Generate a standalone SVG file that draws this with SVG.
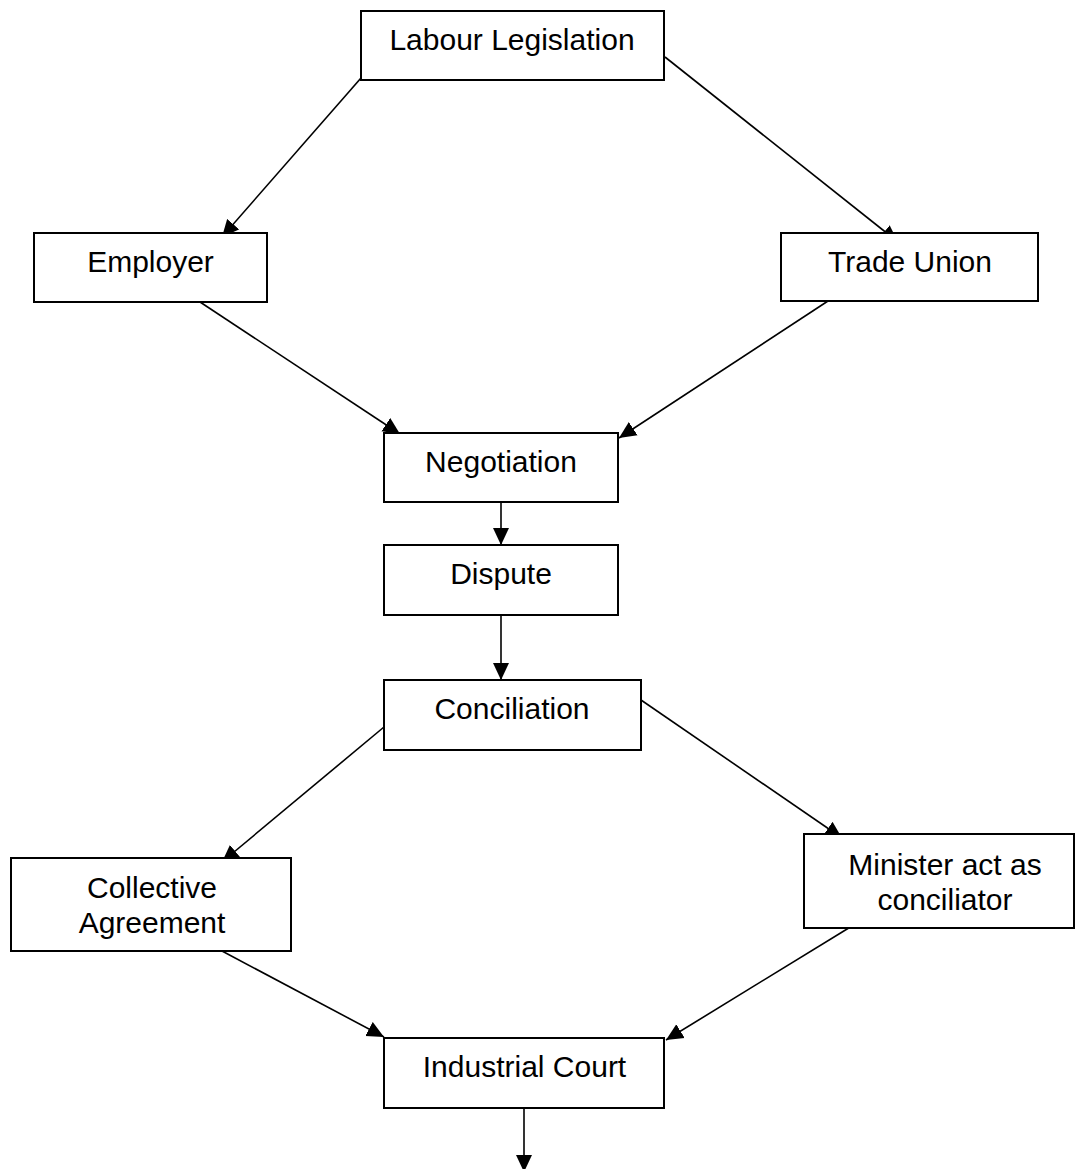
<svg xmlns="http://www.w3.org/2000/svg" width="1075" height="1169" viewBox="0 0 1075 1169">
<style>
.box{fill:#fff;stroke:#000;stroke-width:2}
.t{font-family:"Liberation Sans",Arial,sans-serif;font-size:30px;fill:#000;text-anchor:middle}
.c{stroke:#000;stroke-width:1.6;fill:none;marker-end:url(#ah)}
</style>
<defs>
<marker id="ah" markerUnits="userSpaceOnUse" markerWidth="18" markerHeight="17" refX="17" refY="8" orient="auto" viewBox="0 0 18 16">
<path d="M0,0 L17,8 L0,16 z" fill="#000"/>
</marker>
</defs>
<rect width="1075" height="1169" fill="#fff"/>
<g id="connectors">
<line class="c" x1="361" y1="78" x2="222" y2="237"/>
<line class="c" x1="665" y1="57" x2="898" y2="242"/>
<line class="c" x1="197" y1="300" x2="400" y2="434"/>
<line class="c" x1="828" y1="301" x2="619" y2="438"/>
<line class="c" x1="501" y1="503" x2="501" y2="545"/>
<line class="c" x1="501" y1="615" x2="501" y2="680"/>
<line class="c" x1="384" y1="727" x2="222" y2="862"/>
<line class="c" x1="641" y1="700" x2="842" y2="838"/>
<line class="c" x1="222" y1="951" x2="384" y2="1037"/>
<line class="c" x1="852" y1="926" x2="666" y2="1040"/>
<line class="c" x1="524" y1="1103" x2="524" y2="1172"/>
</g>
<g id="labour"><rect class="box" x="361" y="11" width="303" height="69"/><text class="t" x="512" y="50">Labour Legislation</text></g>
<g id="employer"><rect class="box" x="34" y="233" width="233" height="69"/><text class="t" x="150.5" y="272">Employer</text></g>
<g id="union"><rect class="box" x="781" y="233" width="257" height="68"/><text class="t" x="910" y="272">Trade Union</text></g>
<g id="negotiation"><rect class="box" x="384" y="433" width="234" height="69"/><text class="t" x="501" y="472">Negotiation</text></g>
<g id="dispute"><rect class="box" x="384" y="545" width="234" height="70"/><text class="t" x="501" y="584">Dispute</text></g>
<g id="conciliation"><rect class="box" x="384" y="680" width="257" height="70"/><text class="t" x="512" y="719">Conciliation</text></g>
<g id="collective"><rect class="box" x="11" y="858" width="280" height="93"/><text class="t" x="152" y="898">Collective</text><text class="t" x="152" y="933">Agreement</text></g>
<g id="minister"><rect class="box" x="804" y="834" width="270" height="94"/><text class="t" x="945" y="875">Minister act as</text><text class="t" x="945" y="910">conciliator</text></g>
<g id="court"><rect class="box" x="384" y="1038" width="280" height="70"/><text class="t" x="524.5" y="1077">Industrial Court</text></g>
</svg>
